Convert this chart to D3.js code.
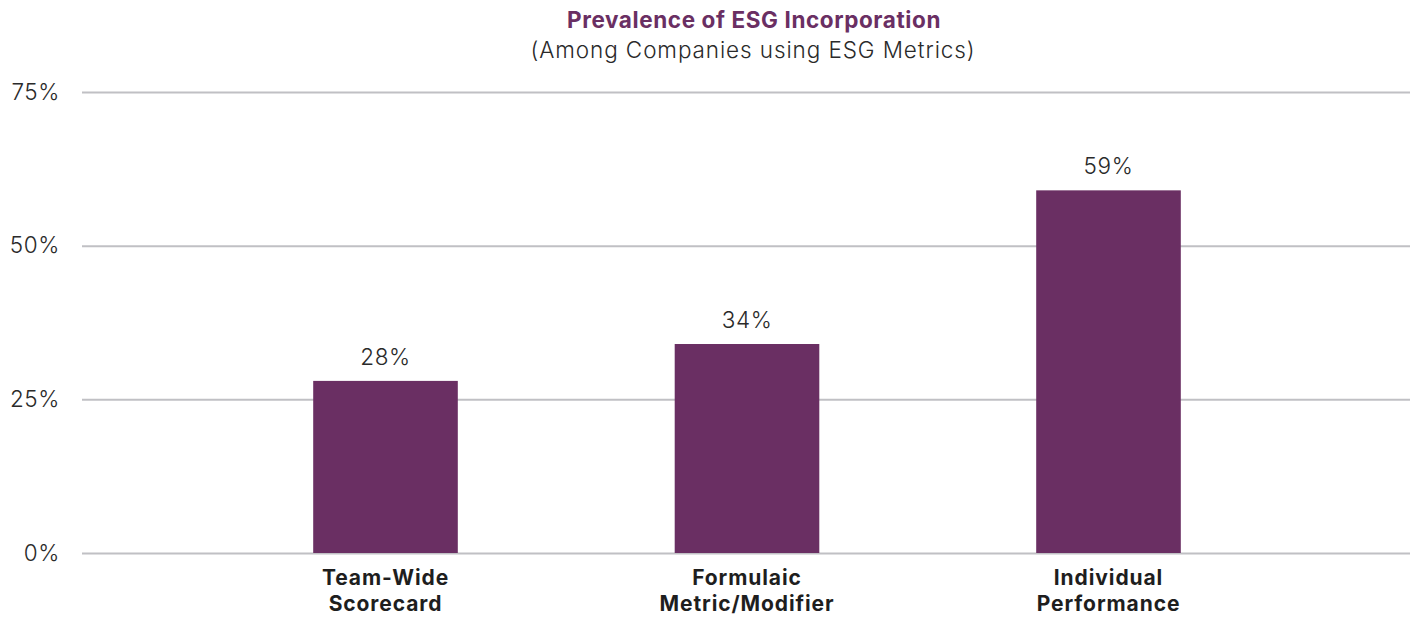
<!DOCTYPE html>
<html>
<head>
<meta charset="utf-8">
<script src="https://cdn.jsdelivr.net/npm/d3@7"></script>
<style>
  html, body { margin: 0; padding: 0; background: #fff; }
  svg { display: block; font-family: "Inter", "Lato", sans-serif; }
</style>
</head>
<body>
<svg id="chart" width="1419" height="617"></svg>
<script>
// Share of companies using each ESG incorporation approach
const categories = [["Team-Wide", "Scorecard"], ["Formulaic", "Metric/Modifier"], ["Individual", "Performance"]];
const values = [28, 34, 59];
const tickValues = [0, 25, 50, 75];

const svg = d3.select("#chart");
const purple = "#6a2f63";
const fontSize = "22.5px";

const x = d3.scaleBand()
  .domain(d3.range(categories.length))
  .range([204.75, 1289.25])
  .paddingInner(0.6)
  .paddingOuter(0.3);

const y = d3.scaleLinear().domain([0, 75]).range([553, 92]);

// Horizontal gridlines with percentage labels
const yAxis = d3.axisLeft(y)
  .tickValues(tickValues)
  .tickSize(-(1410 - 82))
  .tickPadding(22)
  .tickFormat(d => d + "%");

const gy = svg.append("g").attr("transform", "translate(82,0)").call(yAxis);
gy.select(".domain").remove();
gy.selectAll(".tick line").attr("stroke", "#c0c0c4").attr("stroke-width", 2);
gy.selectAll(".tick text")
  .attr("fill", "#2a2a2a")
  .style("font-size", fontSize)
  .style("font-family", "Inter, Lato, sans-serif")
  .style("letter-spacing", "0.6px")
  .attr("font-weight", 300);

// Bars
svg.append("g").selectAll("rect")
  .data(values)
  .join("rect")
  .attr("x", (d, i) => x(i))
  .attr("width", x.bandwidth())
  .attr("y", d => y(d))
  .attr("height", d => y(0) - y(d))
  .attr("fill", purple);

// Value labels
svg.append("g").selectAll("text")
  .data(values)
  .join("text")
  .attr("x", (d, i) => x(i) + x.bandwidth() / 2)
  .attr("y", d => y(d) - 16)
  .attr("text-anchor", "middle")
  .attr("fill", "#2a2a2a")
  .style("font-size", fontSize)
  .style("letter-spacing", "0.6px")
  .attr("font-weight", 300)
  .text(d => d + "%");

// Category labels (two lines each)
const cat = svg.append("g").selectAll("text")
  .data(categories)
  .join("text")
  .attr("x", (d, i) => x(i) + x.bandwidth() / 2)
  .attr("y", 585)
  .attr("text-anchor", "middle")
  .attr("fill", "#1e1e1e")
  .style("font-size", "21px")
  .style("letter-spacing", "0.9px")
  .attr("font-weight", 700);
cat.selectAll("tspan")
  .data(d => d)
  .join("tspan")
  .attr("x", function () { return this.parentNode.getAttribute("x"); })
  .attr("dy", (d, i) => i === 0 ? 0 : 26)
  .text(d => d);

// Title and subtitle
svg.append("text")
  .attr("x", 754).attr("y", 28)
  .attr("text-anchor", "middle")
  .attr("fill", purple)
  .style("font-size", fontSize)
  .style("letter-spacing", "0.6px")
  .attr("font-weight", 700)
  .text("Prevalence of ESG Incorporation");

svg.append("text")
  .attr("x", 753).attr("y", 58)
  .attr("text-anchor", "middle")
  .attr("fill", "#2a2a2a")
  .style("font-size", fontSize)
  .style("letter-spacing", "0.9px")
  .attr("font-weight", 300)
  .text("(Among Companies using ESG Metrics)");
</script>
</body>
</html>
